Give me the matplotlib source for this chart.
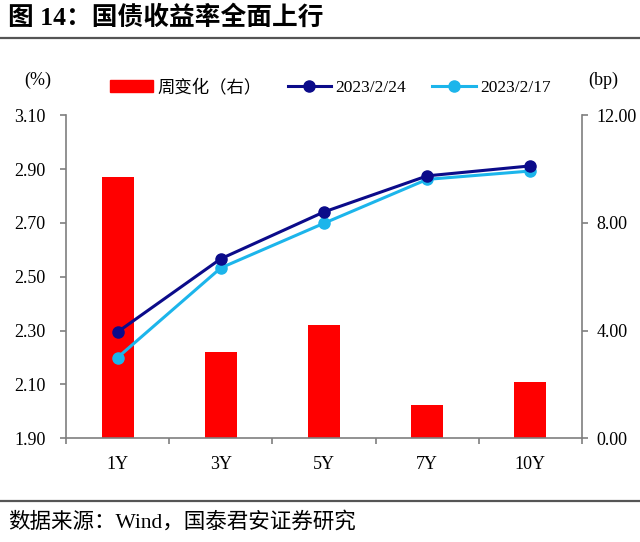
import matplotlib.pyplot as plt
from matplotlib.lines import Line2D
from matplotlib.patches import Patch

plt.rcParams['font.family'] = ['Liberation Serif', 'Noto Sans CJK SC']

# 数据
tenors = ['1Y', '3Y', '5Y', '7Y', '10Y']
y_0224 = [2.295, 2.567, 2.741, 2.875, 2.912]
y_0217 = [2.200, 2.533, 2.699, 2.862, 2.893]
chg_bp = [9.7, 3.2, 4.2, 1.25, 2.1]

c_bar = '#FF0000'
c_dark = '#0B0B8A'
c_light = '#1CB5EB'
c_axis = '#7F7F7F'
fs = 13

fig = plt.figure(figsize=(6.4, 5.42), dpi=100)
ax = fig.add_axes([66 / 640, 1 - 438.3 / 542, (582 - 66) / 640, (438.3 - 115.3) / 542])
ax2 = ax.twinx()

x = list(range(len(tenors)))

# 柱子放在右轴，画在折线下面
ax2.bar(x, chg_bp, width=0.31, color=c_bar, zorder=1)
ax2.set_ylim(0, 12)
ax2.set_yticks([0, 4, 8, 12])
ax2.set_yticklabels(['0.00', '4.00', '8.00', '12.00'])

ax.set_zorder(ax2.get_zorder() + 1)
ax.patch.set_visible(False)
ax.plot(x, y_0224, color=c_dark, lw=2.2, marker='o', ms=8, zorder=3)
ax.plot(x, y_0217, color=c_light, lw=2.2, marker='o', ms=8, zorder=2)
ax.set_ylim(1.90, 3.10)
ax.set_yticks([1.90, 2.10, 2.30, 2.50, 2.70, 2.90, 3.10])
ax.set_yticklabels(['%.2f' % v for v in [1.90, 2.10, 2.30, 2.50, 2.70, 2.90, 3.10]])
ax.set_xlim(-0.5, len(tenors) - 0.5)
ax.set_xticks(x)
ax.set_xticklabels(tenors)
ax.set_xticks([i - 0.5 for i in range(len(tenors) + 1)], minor=True)

for a in (ax, ax2):
    a.spines['top'].set_visible(False)
    for s in ('left', 'right', 'bottom'):
        a.spines[s].set_color(c_axis)
        a.spines[s].set_linewidth(1.2)
ax.spines['right'].set_visible(False)
ax2.spines['left'].set_visible(False)
ax2.spines['bottom'].set_visible(False)

ax.tick_params(axis='y', length=4.5, color=c_axis, width=1.2, labelsize=fs, pad=10)
ax2.tick_params(axis='y', length=4.5, color=c_axis, width=1.2, labelsize=fs, pad=6)
ax.tick_params(axis='x', which='major', length=0, labelsize=fs, pad=13)
ax.tick_params(axis='x', which='minor', length=4.5, color=c_axis, width=1.2)

# 图例和单位
handles = [
    Patch(color=c_bar, label='周变化（右）'),
    Line2D([], [], color=c_dark, lw=2.2, marker='o', ms=8, label='2023/2/24'),
    Line2D([], [], color=c_light, lw=2.2, marker='o', ms=8, label='2023/2/17'),
]
fig.legend(handles=handles, loc='center', bbox_to_anchor=(330 / 640, 1 - 88 / 542),
           ncol=3, frameon=False, fontsize=12.5, handlelength=2.5, handletextpad=0.25,
           columnspacing=1.5)
fig.text(38 / 640, 1 - 80 / 542, '(%)', fontsize=fs, ha='center', va='center')
fig.text(603 / 640, 1 - 80 / 542, '(bp)', fontsize=fs, ha='center', va='center')

# 标题和来源
fig.text(8 / 640, 1 - 18 / 542, '图 14：国债收益率全面上行', fontsize=18.5,
         fontweight='bold', ha='left', va='center')
fig.add_artist(Line2D([0, 1], [1 - 38 / 542, 1 - 38 / 542], color='#555555', lw=1.6))
fig.add_artist(Line2D([0, 1], [1 - 501 / 542, 1 - 501 / 542], color='#555555', lw=1.6))
fig.text(8 / 640, 1 - 522 / 542, '数据来源：Wind，国泰君安证券研究', fontsize=15.5,
         ha='left', va='center')

fig.savefig('out.png', dpi=100)
